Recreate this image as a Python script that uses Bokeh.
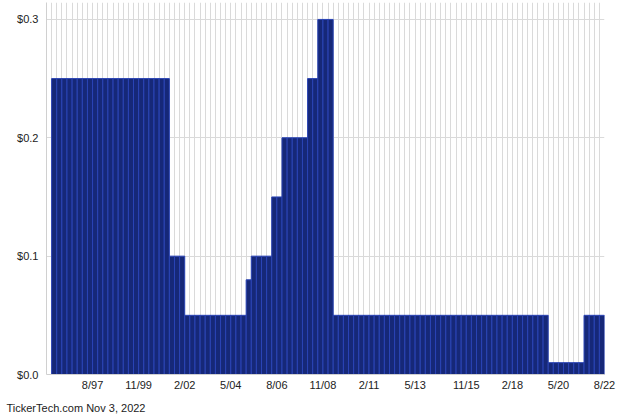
import numpy as np
from bokeh.plotting import figure
from bokeh.models import FixedTicker, NumeralTickFormatter, Range1d, Title, ColumnDataSource
from bokeh.embed import file_html
from bokeh.resources import INLINE

# ---- data (quarterly dividend per share) ----
first_payment = "11/95"
amounts = [
    0.25, 0.25, 0.25, 0.25, 0.25, 0.25, 0.25, 0.25, 0.25, 0.25,
    0.25, 0.25, 0.25, 0.25, 0.25, 0.25, 0.25, 0.25, 0.25, 0.25,
    0.25, 0.25, 0.25,
    0.10, 0.10, 0.10,
    0.05, 0.05, 0.05, 0.05, 0.05, 0.05, 0.05, 0.05, 0.05, 0.05, 0.05, 0.05,
    0.08,
    0.10, 0.10, 0.10, 0.10,
    0.15, 0.15,
    0.20, 0.20, 0.20, 0.20, 0.20,
    0.25, 0.25,
    0.30, 0.30, 0.30,
    0.05, 0.05, 0.05, 0.05, 0.05, 0.05, 0.05, 0.05, 0.05, 0.05,
    0.05, 0.05, 0.05, 0.05, 0.05, 0.05, 0.05, 0.05, 0.05, 0.05,
    0.05, 0.05, 0.05, 0.05, 0.05, 0.05, 0.05, 0.05, 0.05, 0.05,
    0.05, 0.05, 0.05, 0.05, 0.05, 0.05, 0.05, 0.05, 0.05, 0.05,
    0.05, 0.05,
    0.01, 0.01, 0.01, 0.01, 0.01, 0.01, 0.01,
    0.05, 0.05, 0.05, 0.05,
]
tick_labels = ["8/97", "11/99", "2/02", "5/04", "8/06", "11/08",
               "2/11", "5/13", "11/15", "2/18", "5/20", "8/22"]
y_ticks = [0.0, 0.1, 0.2, 0.3]
footer = "TickerTech.com  Nov 3, 2022"


def month_index(label):
    m, yy = label.split("/")
    y = int(yy)
    y += 1900 if y > 50 else 2000
    return y * 12 + int(m) - 1


first = month_index(first_payment)
right = [first + 3 * i for i in range(len(amounts))]
left = [r - 3 for r in right]
src = ColumnDataSource(dict(left=left, right=right, top=amounts, bottom=[0] * len(amounts)))

x0 = left[0] - 3
x1 = right[-1]

p = figure(width=640, height=420, output_backend="svg", toolbar_location=None,
           x_range=Range1d(x0, x1), y_range=Range1d(0, 0.3143),
           min_border_left=46, min_border_right=36, min_border_top=2, min_border_bottom=45)
p.outline_line_color = None
p.background_fill_color = "white"

grid_col = "#dadada"
p.ygrid.ticker = FixedTicker(ticks=y_ticks)
p.ygrid.grid_line_color = grid_col
p.xgrid.ticker = FixedTicker(ticks=list(range(x0, x1 + 1, 3)))
p.xgrid.grid_line_color = grid_col

p.quad(left="left", right="right", top="top", bottom="bottom", source=src,
       fill_color="#162878", line_color="#2a44b6", line_width=1)

tick_pos = [month_index(t) for t in tick_labels]
p.xaxis.ticker = FixedTicker(ticks=tick_pos)
p.xaxis.major_label_overrides = {tp: tl for tp, tl in zip(tick_pos, tick_labels)}
p.xaxis.major_tick_line_color = None
p.xaxis.major_tick_out = 0
p.xaxis.major_tick_in = 0
p.xaxis.minor_tick_line_color = None
p.xaxis.axis_line_color = "#d0d0d0"
p.xaxis.major_label_standoff = 4
p.xaxis.major_label_text_font = "Liberation Sans"
p.xaxis.major_label_text_font_size = "11px"
p.xaxis.major_label_text_color = "#222222"

p.yaxis.ticker = FixedTicker(ticks=y_ticks)
p.yaxis.formatter = NumeralTickFormatter(format="$0.0")
p.yaxis.major_tick_line_color = None
p.yaxis.major_tick_out = 0
p.yaxis.major_tick_in = 0
p.yaxis.minor_tick_line_color = None
p.yaxis.axis_line_color = "#d0d0d0"
p.yaxis.major_label_standoff = 8
p.yaxis.major_label_text_font = "Liberation Sans"
p.yaxis.major_label_text_font_size = "11px"
p.yaxis.major_label_text_color = "#222222"

p.add_layout(Title(text=footer, align="left", offset=-40, standoff=13,
                   text_font="Liberation Sans", text_font_size="11px",
                   text_font_style="normal", text_color="#222222"), "below")

open("out.html", "w").write(file_html(p, INLINE))
